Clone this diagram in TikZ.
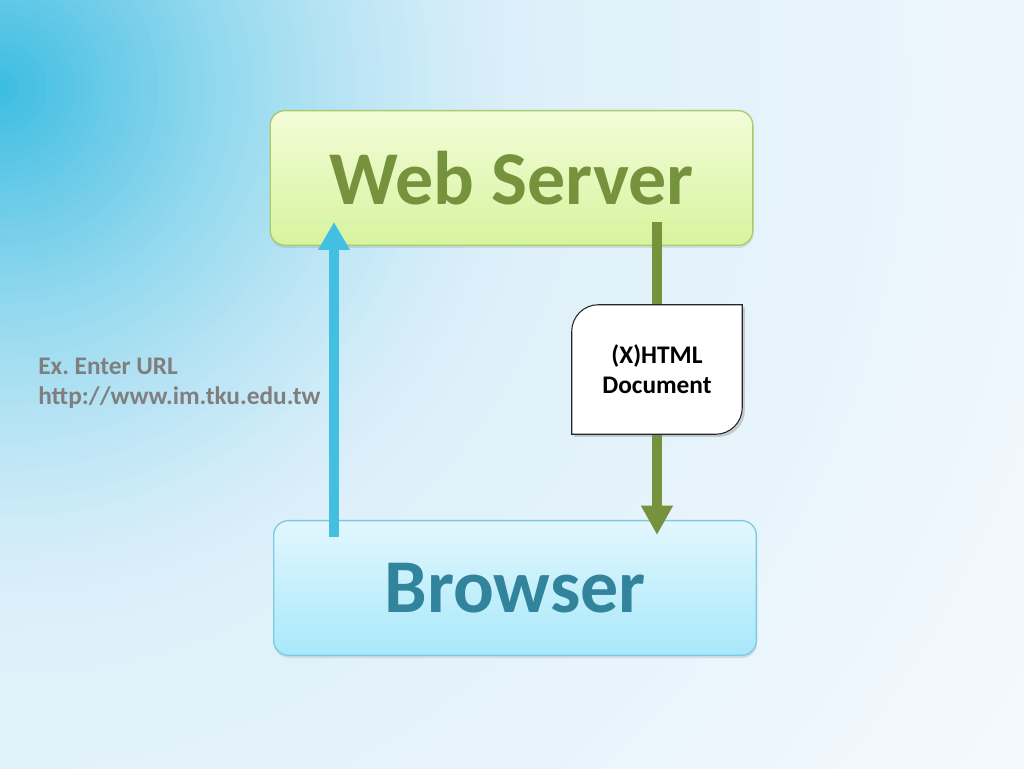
\documentclass[tikz,border=0pt]{standalone}
\usepackage{fontspec}
\setmainfont{Carlito}
\frenchspacing
\usetikzlibrary{arrows.meta,shadows}
\definecolor{glowin}{RGB}{58,188,225}
\definecolor{bgleft}{RGB}{222,240,250}
\definecolor{bgright}{RGB}{246,250,254}
\definecolor{srvtop}{RGB}{243,252,216}
\definecolor{srvbot}{RGB}{214,244,158}
\definecolor{srvline}{RGB}{170,202,110}
\definecolor{srvtext}{RGB}{118,146,60}
\definecolor{brwtop}{RGB}{226,247,254}
\definecolor{brwbot}{RGB}{168,232,250}
\definecolor{brwline}{RGB}{126,202,226}
\definecolor{brwtext}{RGB}{49,132,155}
\definecolor{reqblue}{RGB}{67,191,226}
\definecolor{urlgray}{RGB}{127,127,127}
\pgfdeclarelayer{back}
\pgfdeclarelayer{paper}
\pgfdeclarelayer{front}
\pgfsetlayers{back,main,paper,front}

\begin{document}
\begin{tikzpicture}[x=0.75pt, y=0.75pt,
  box/.style={rounded corners=11pt, line width=1pt, minimum width=362pt,
    minimum height=101pt, font=\fontsize{57}{60}\selectfont\bfseries,
    drop shadow={shadow xshift=0.5pt, shadow yshift=-2pt, opacity=0.2}},
  doc/.style={minimum width=127.5pt, minimum height=96.75pt, inner sep=0pt,
    align=center, font=\fontsize{19}{22.5}\selectfont\bfseries},
  docline/.style={fill=white, draw=black!85, line width=0.8pt,
    drop shadow={shadow xshift=2pt, shadow yshift=-2pt, opacity=0.35}},
  reqarrow/.style={line width=7.5pt, draw=reqblue, -{Triangle[width=22.5pt,length=21pt]}},
  resline/.style={line width=7.5pt, draw=srvtext},
  resarrow/.style={resline, -{Triangle[width=22.5pt,length=22pt]}}]
\useasboundingbox (0,0) rectangle (1024,768);

% background
\begin{pgfonlayer}{back}
\begin{scope}
  \clip (0,0) rectangle (1024,768);
  \foreach \i in {0,...,29} {
    \pgfmathsetmacro\r{1300-740*(\i/30)}
    \pgfmathsetmacro\p{100*(1-\i/30)}
    \fill[bgright!\p!bgleft] (0,680) circle[radius=\r];
  }
  \foreach \i in {0,...,59} {
    \pgfmathsetmacro\r{560*(1-\i/60)}
    \pgfmathsetmacro\p{100*(\i/60)^1.5}
    \fill[glowin!\p!bgleft] (0,680) circle[radius=\r];
  }
\end{scope}
\end{pgfonlayer}

% boxes
\node[box, top color=srvtop, bottom color=srvbot, draw=srvline, text=srvtext]
  (server) at (511.5,590) {Web Server};
\node[box, top color=brwtop, bottom color=brwbot, draw=brwline, text=brwtext]
  (browser) at (515,180) {Browser};

\node[anchor=west, align=left, inner sep=0pt, text=urlgray,
  font=\fontsize{19}{22.5}\selectfont\bfseries]
  (url) at (38,385) {Ex. Enter URL\\http://www.im.tku.edu.tw};

% document
\begin{pgfonlayer}{front}
\node[doc] (doc) at (657,398.5) {(X)HTML\\Document};
\end{pgfonlayer}
\begin{pgfonlayer}{paper}
\path[docline] (doc.north east) -- ([yshift=20pt]doc.south east)
  arc[start angle=0, end angle=-90, radius=20pt] -- (doc.south west)
  -- ([yshift=-20pt]doc.north west)
  arc[start angle=180, end angle=90, radius=20pt] -- cycle;
\end{pgfonlayer}

% arrows
\coordinate (req) at (334,231);
\coordinate (req tip) at (334,546);
\coordinate (res) at (657,546);
\coordinate (res tip) at (657,233);
\draw[reqarrow] (req) -- (req tip);
\draw[resline] (res) -- (doc);
\draw[resarrow] (doc) -- (res tip);
\end{tikzpicture}
\end{document}
